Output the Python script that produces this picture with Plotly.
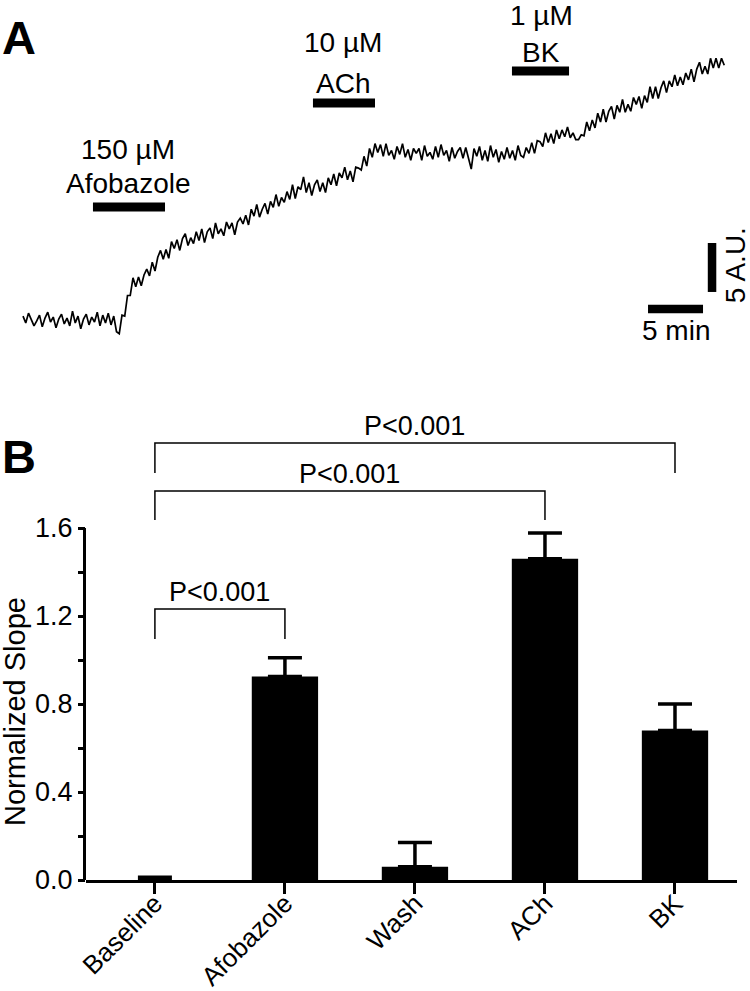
import numpy as np
import plotly.graph_objects as go

# ---------------- Panel A data: fluorescence trace (A.U.), sampled every 0.25 min ----------------
trace_step_min = 0.25
trace_au = [
    0.4, -0.3, 0.7, 0.1, -0.6, -0.1, 0.5, -0.7, 0.2, 0.8, -0.2, 0.3, -0.8, 0.1, 0.6, -0.4,
    0.2, -0.6, 0.9, -0.3, 0.4, -0.9, 0.1, 0.6, -0.5, 0.3, -0.2, 0.8, -0.6, 0.5, -0.3, 0.7,
    -0.5, 0.4, -1.2, -1.4, 0.5, 0.4, 2.5, 2.5, 4.3, 3.4, 4.4, 3.5, 4.6, 5.2, 4.5, 5.9,
    5.0, 6.4, 7.1, 6.2, 7.2, 6.3, 8.0, 7.3, 8.2, 7.1, 8.3, 8.8, 7.6, 8.4, 7.8, 9.0,
    8.1, 9.3, 7.9, 9.0, 9.4, 8.3, 9.9, 8.8, 9.3, 8.6, 10.0, 9.3, 9.9, 8.7, 10.0, 10.4,
    9.8, 10.7, 9.7, 11.3, 10.6, 11.8, 10.5, 11.3, 11.9, 10.8, 12.1, 11.5, 12.8, 11.6, 12.5, 12.0,
    13.1, 12.3, 13.8, 12.4, 13.6, 13.3, 14.6, 13.0, 14.0, 12.7, 13.8, 14.3, 13.1, 14.0, 13.0, 14.5,
    13.8, 14.9, 13.7, 15.0, 14.5, 15.6, 14.3, 15.2, 14.1, 15.6, 15.5, 15.3, 16.7, 15.7, 17.5, 16.6,
    18.0, 17.1, 17.9, 16.7, 18.0, 16.8, 17.3, 16.4, 17.7, 16.9, 18.0, 16.6, 17.4, 16.3, 17.5, 17.0,
    17.5, 16.3, 17.8, 16.7, 17.1, 16.4, 17.7, 16.6, 17.9, 16.8, 17.3, 16.2, 17.6, 16.5, 17.2, 17.6,
    16.5, 17.6, 16.6, 15.4, 17.5, 16.7, 17.7, 16.3, 17.3, 16.2, 17.8, 16.6, 17.4, 16.1, 17.2, 16.4,
    17.6, 16.5, 17.3, 16.3, 17.8, 16.8, 16.6, 17.6, 17.0, 18.1, 17.0, 18.3, 18.2, 17.7, 19.1, 18.1,
    19.0, 18.0, 19.4, 18.5, 19.4, 18.7, 19.7, 18.6, 19.1, 18.4, 18.4, 18.9, 18.8, 20.2, 19.3, 20.4,
    19.6, 21.1, 20.2, 21.5, 20.2, 21.3, 21.8, 20.5, 21.9, 21.2, 22.5, 21.2, 22.0, 21.3, 22.7, 22.0,
    22.8, 21.6, 22.9, 22.2, 23.8, 22.6, 23.8, 22.6, 23.7, 24.4, 23.2, 24.4, 23.8, 25.0, 23.9, 24.8,
    24.0, 25.2, 24.5, 25.6, 24.3, 25.6, 26.3, 25.1, 25.9, 25.1, 26.7, 25.7, 26.7, 25.7, 26.7, 26.0,
]
trace_time = np.arange(len(trace_au)) * trace_step_min

# drug application bars: start / end (min) and level (A.U.)
drug_start = [6.36, 26.36, 44.45]
drug_end = [12.91, 32.0, 49.64]
drug_level = [11.53, 22.14, 25.41]
drug_label_text = ["150 µM", "Afobazole", "10 µM", "ACh", "1 µM", "BK"]
drug_label_t = [9.55, 9.55, 29.1, 29.1, 47.1, 47.1]
drug_label_au = [17.35, 13.9, 28.3, 24.1, 31.1, 27.3]

# ---------------- Panel B data ----------------
categories = ["Baseline", "Afobazole", "Wash", "ACh", "BK"]
slope_mean = [0.0, 0.925, 0.06, 1.46, 0.68]
slope_sem = [0.012, 0.085, 0.11, 0.117, 0.12]
y_tick_vals = [0.0, 0.2, 0.4, 0.6, 0.8, 1.0, 1.2, 1.4, 1.6]
y_tick_text = ["0.0", "", "0.4", "", "0.8", "", "1.2", "", "1.6"]

# significance brackets
br_from = [0, 0, 0]
br_to = [1, 3, 4]
br_top = [1.232, 1.768, 1.986]
br_bottom = [1.095, 1.636, 1.85]
br_label = ["P<0.001", "P<0.001", "P<0.001"]

FONT = "Liberation Sans, Arial, Helvetica, sans-serif"
W, H = 750, 991

fig = go.Figure()

# ---- Panel A trace
fig.add_trace(go.Scatter(x=trace_time, y=trace_au, mode="lines",
                         line=dict(color="black", width=1.7),
                         xaxis="x", yaxis="y", showlegend=False, hoverinfo="skip"))

shapes = []
annotations = []
for s, e, lv in zip(drug_start, drug_end, drug_level):
    shapes.append(dict(type="line", xref="x", yref="y", x0=s, x1=e, y0=lv, y1=lv,
                       line=dict(color="black", width=9)))

for txt, xx, yy in zip(drug_label_text, drug_label_t, drug_label_au):
    annotations.append(dict(text=txt, x=xx, y=yy, xref="x", yref="y", showarrow=False,
                            xanchor="center", yanchor="middle",
                            font=dict(family=FONT, size=28, color="black")))

# scale bars
shapes.append(dict(type="line", xref="x", yref="y", x0=56.82, x1=61.82, y0=1.12, y1=1.12,
                   line=dict(color="black", width=8.5)))
shapes.append(dict(type="line", xref="x", yref="y", x0=62.64, x1=62.64, y0=2.86, y1=7.86,
                   line=dict(color="black", width=8.5)))
annotations.append(dict(text="5 min", x=59.36, y=-1.1, xref="x", yref="y", showarrow=False,
                        xanchor="center", yanchor="middle",
                        font=dict(family=FONT, size=28, color="black")))
annotations.append(dict(text="5 A.U.", x=64.75, y=5.6, xref="x", yref="y", showarrow=False,
                        xanchor="center", yanchor="middle", textangle=-90,
                        font=dict(family=FONT, size=28, color="black")))

# ---- Panel B bars
fig.add_trace(go.Bar(x=list(range(len(categories))), y=slope_mean, width=0.51,
                     marker=dict(color="black", line=dict(width=0)),
                     error_y=dict(type="data", array=slope_sem, symmetric=False,
                                  arrayminus=[0] * len(slope_sem),
                                  color="black", thickness=3.5, width=17),
                     xaxis="x2", yaxis="y2", showlegend=False, hoverinfo="skip"))

for a, b, t, bt, lab in zip(br_from, br_to, br_top, br_bottom, br_label):
    fig.add_trace(go.Scatter(x=[a, a, b, b], y=[bt, t, t, bt], mode="lines",
                             line=dict(color="black", width=1.5),
                             xaxis="x2", yaxis="y2", showlegend=False, hoverinfo="skip"))
    annotations.append(dict(text=lab, x=(a + b) / 2, y=t, xref="x2", yref="y2",
                            showarrow=False, xanchor="center", yanchor="bottom",
                            font=dict(family=FONT, size=27, color="black")))

# invisible trace so the y-axis line (0 to 1.6) is drawn
fig.add_trace(go.Scatter(x=[None], y=[None], xaxis="x2", yaxis="y3",
                         showlegend=False, hoverinfo="skip"))

annotations.append(dict(text="Normalized Slope", x=15 / W, y=1 - 712 / H, xref="paper", yref="paper",
                        showarrow=False, xanchor="center", yanchor="middle", textangle=-90,
                        font=dict(family=FONT, size=29, color="black")))
annotations.append(dict(text="<b>A</b>", x=0, y=1 - 37 / H, xref="paper", yref="paper",
                        showarrow=False, xanchor="left", yanchor="middle",
                        font=dict(family=FONT, size=47, color="black")))
annotations.append(dict(text="<b>B</b>", x=0, y=1 - 457 / H, xref="paper", yref="paper",
                        showarrow=False, xanchor="left", yanchor="middle",
                        font=dict(family=FONT, size=47, color="black")))

fig.update_layout(
    width=W, height=H,
    margin=dict(l=0, r=0, t=0, b=0, autoexpand=False),
    paper_bgcolor="white", plot_bgcolor="rgba(0,0,0,0)",
    showlegend=False,
    font=dict(family=FONT, color="black"),
    xaxis=dict(domain=[0, 1], range=[-23 / 11, 727 / 11], visible=False, anchor="y",
               automargin=False),
    yaxis=dict(domain=[1 - 345 / H, 1], range=[-25 / 9.8, 320 / 9.8], visible=False, anchor="x",
               automargin=False),
    xaxis2=dict(domain=[86 / W, 737.4 / W], range=[-0.53, 4.48], anchor="y2",
                showline=True, linewidth=3, linecolor="black",
                ticks="outside", ticklen=11, tickwidth=3, tickcolor="black",
                tickvals=list(range(len(categories))), ticktext=categories,
                tickangle=-45, ticklabelstandoff=-16,
                tickfont=dict(family=FONT, size=26, color="black"),
                showgrid=False, zeroline=False, automargin=False),
    yaxis2=dict(domain=[1 - 880 / H, 1 - 429 / H], range=[0, 2.05], anchor="x2",
                showline=False, ticks="outside", ticklen=7, tickwidth=3, tickcolor="black",
                tickvals=y_tick_vals, ticktext=y_tick_text,
                tickfont=dict(family=FONT, size=27, color="black"),
                showgrid=False, zeroline=False, automargin=False),
    yaxis3=dict(domain=[1 - 880 / H, 1 - 528 / H], range=[0, 1.6], anchor="x2",
                showline=True, linewidth=3, linecolor="black",
                showticklabels=False, ticks="", showgrid=False, zeroline=False,
                automargin=False),
    shapes=shapes,
    annotations=annotations,
)

fig.write_html("out.html", config={"displayModeBar": False},
               post_script="document.body.style.margin='0';document.body.style.overflow='hidden';")
